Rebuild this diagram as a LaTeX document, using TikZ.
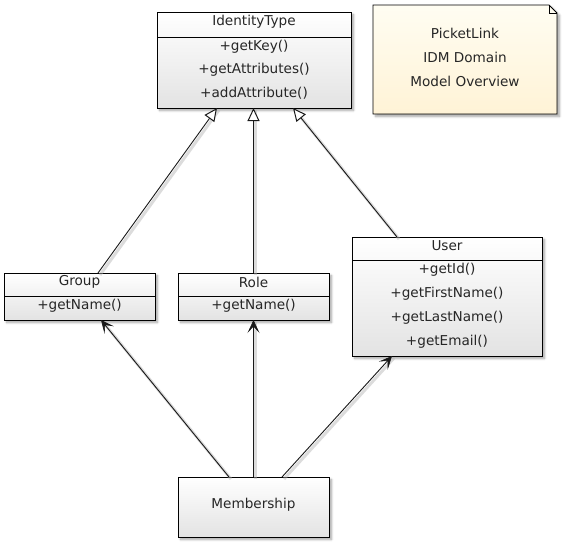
\documentclass[tikz,border=0pt]{standalone}
\usepackage{fontspec}
\setmainfont{DejaVu Sans}
\usetikzlibrary{arrows.meta,shadows.blur,calc}
\definecolor{notetop}{HTML}{FFFDF2}
\definecolor{notebot}{HTML}{FFF3D6}
\begin{document}
\begin{tikzpicture}[x=1pt,y=-1pt,
  box/.style={draw=black, line width=0.9pt, anchor=north west, inner sep=0pt, outer sep=0pt,
    top color=white, bottom color=black!11,
    blur shadow={shadow xshift=2.5pt, shadow yshift=-2.5pt, shadow blur steps=6, shadow opacity=35}},
  lbl/.style={font=\fontsize{13.6}{16}\selectfont, text=black!85, inner sep=0pt},
  sepline/.style={draw=black, line width=0.9pt},
  conn/.style={line width=0.9pt, draw=black!90},
  shad/.style={line width=3pt, draw=black!30, opacity=0.45},
  inh/.style={conn, -{Triangle[length=13pt,width=12pt,fill=white,line width=1pt]}},
  nav/.style={conn, -{Stealth[length=13pt,width=12pt,inset=6.5pt,line width=0.6pt]}},
]
\useasboundingbox (0,0) rectangle (564,544);

% ---------- note ----------
\node[anchor=north west, minimum width=184pt, minimum height=109pt, inner sep=0pt, outer sep=0pt] (note) at (373,5) {};
\draw[line width=0.9pt, top color=notetop, bottom color=notebot,
  blur shadow={shadow xshift=2.5pt, shadow yshift=-2.5pt, shadow blur steps=6, shadow opacity=35}]
  (note.north west) -- ([xshift=-8pt]note.north east) -- ([yshift=-8pt]note.north east)
  -- (note.south east) -- (note.south west) -- cycle;
\draw[line width=0.9pt] ([xshift=-8pt]note.north east) -- ([xshift=-8pt,yshift=-8pt]note.north east) -- ([yshift=-8pt]note.north east);
\node[lbl] (n1) at (465,33) {PicketLink};
\node[lbl] (n2) at (465,57) {IDM Domain};
\node[lbl] (n3) at (465,81) {Model Overview};

% ---------- IdentityType ----------
\node[box, minimum width=194pt, minimum height=96pt] (ident) at (157,12) {};
\draw[sepline] ([yshift=-25pt]ident.north west) -- ([yshift=-25pt]ident.north east);
\node[lbl] (identname) at (254,22) {IdentityType};
\node[lbl] (ident1) at (254,47) {+getKey()};
\node[lbl] (ident2) at (254,70) {+getAttributes()};
\node[lbl] (ident3) at (254,93) {+addAttribute()};

% ---------- Group ----------
\node[box, minimum width=151pt, minimum height=47pt] (group) at (4,273) {};
\draw[sepline] ([yshift=-23pt]group.north west) -- ([yshift=-23pt]group.north east);
\node[lbl] (groupname) at (79.5,282) {Group};
\node[lbl] (group1) at (79.5,306) {+getName()};

% ---------- Role ----------
\node[box, minimum width=151pt, minimum height=47pt] (role) at (178,273) {};
\draw[sepline] ([yshift=-23pt]role.north west) -- ([yshift=-23pt]role.north east);
\node[lbl] (rolename) at (253.5,282) {Role};
\node[lbl] (role1) at (253.5,306) {+getName()};

% ---------- User ----------
\node[box, minimum width=190pt, minimum height=119pt] (user) at (352,237) {};
\draw[sepline] ([yshift=-23pt]user.north west) -- ([yshift=-23pt]user.north east);
\node[lbl] (username) at (447,246) {User};
\node[lbl] (user1) at (447,270) {+getId()};
\node[lbl] (user2) at (447,294) {+getFirstName()};
\node[lbl] (user3) at (447,318) {+getLastName()};
\node[lbl] (user4) at (447,342) {+getEmail()};

% ---------- Membership ----------
\node[box, minimum width=151pt, minimum height=60pt] (mem) at (178,477) {};
\node[lbl] (memname) at (253.5,505) {Membership};

% ---------- connector end points ----------
\coordinate (gTop) at ([xshift=94pt]group.north west);
\coordinate (idL) at ([xshift=60pt]ident.south west);
\coordinate (rTop) at (role.north);
\coordinate (idM) at (ident.south -| role.north);
\coordinate (uTop) at ([xshift=45pt]user.north west);
\coordinate (idR) at ([xshift=136pt]ident.south west);
\coordinate (gBot) at ([xshift=97pt]group.south west);
\coordinate (rBot) at (role.south);
\coordinate (uBot) at ([xshift=40pt]user.south west);
\coordinate (mL) at ([xshift=51pt]mem.north west);
\coordinate (mM) at (mem.north -| role.south);
\coordinate (mR) at ([xshift=104pt]mem.north west);

% ---------- connector shadows ----------
\foreach \a/\b in {gTop/idL, rTop/idM, uTop/idR, mL/gBot, mM/rBot, mR/uBot}{
  \draw[shad] ([xshift=2pt,yshift=-2pt]\a) -- ([xshift=2pt,yshift=-2pt]\b);
}

% ---------- connectors ----------
\draw[inh] (gTop) -- (idL);
\draw[inh] (rTop) -- (idM);
\draw[inh] (uTop) -- (idR);
\draw[nav] (mL) -- (gBot);
\draw[nav] (mM) -- (rBot);
\draw[nav] (mR) -- (uBot);
\end{tikzpicture}
\end{document}
